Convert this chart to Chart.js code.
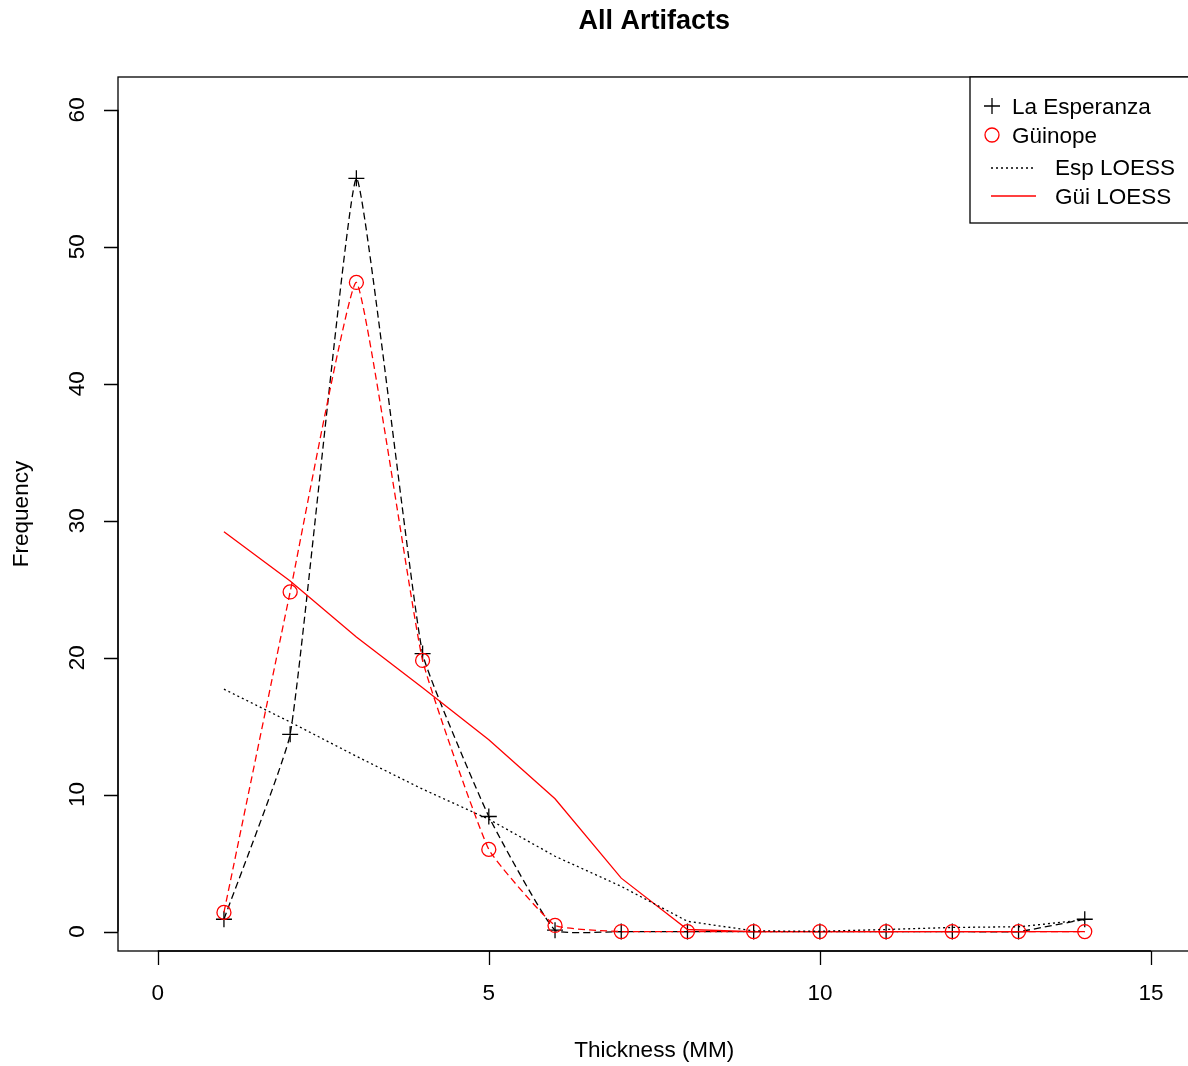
<!DOCTYPE html>
<html>
<head>
<meta charset="utf-8">
<script src="https://cdn.jsdelivr.net/npm/chart.js@4/dist/chart.umd.min.js"></script>
<style>
  html, body { margin: 0; padding: 0; background: #fff; overflow: hidden; }
  #wrap { position: absolute; left: 0; top: 0; width: 1200px; height: 1066px; }
</style>
</head>
<body>
<div id="wrap"><canvas id="c" width="1200" height="1066"></canvas></div>
<script>
// ---- data ----
const thickness   = [1, 2, 3, 4, 5, 6, 7, 8, 9, 10, 11, 12, 13, 14];
const esperanza   = [0.9, 14.4, 55.0, 20.3, 8.4, 0.1, 0, 0, 0, 0, 0, 0, 0, 0.9];
const guinope     = [1.4, 24.8, 47.4, 19.8, 6.0, 0.45, 0, 0, 0, 0, 0, 0, 0, 0];
const espLoess    = [17.7, 15.3, 12.8, 10.4, 8.2, 5.5, 3.3, 0.75, 0.05, 0.02, 0.15, 0.3, 0.35, 0.85];
const guiLoess    = [29.2, 25.6, 21.5, 17.8, 14.0, 9.7, 3.9, 0.15, 0, 0, 0, 0, 0, 0];
const xTicks      = [0, 5, 10, 15];
const yTicks      = [0, 10, 20, 30, 40, 50, 60];
const seriesNames = ['La Esperanza', 'Güinope', 'Esp LOESS', 'Güi LOESS'];
const chartTitle  = 'All Artifacts';
const xTitle      = 'Thickness (MM)';
const yTitle      = 'Frequency';

const pts = (ys) => thickness.map((x, i) => ({ x: x, y: ys[i] }));
const FONT = '"Liberation Sans", Arial, sans-serif';
const LW = 1.3;

const rPlot = {
  id: 'rPlot',
  afterDraw(chart) {
    const ctx = chart.ctx;
    const a = chart.chartArea;
    const xs = chart.scales.x, ys = chart.scales.y;
    ctx.save();
    ctx.strokeStyle = '#000';
    ctx.fillStyle = '#000';
    ctx.lineWidth = LW;
    ctx.setLineDash([]);
    // box
    ctx.strokeRect(a.left, a.top, a.right - a.left, a.bottom - a.top);
    // x axis
    ctx.beginPath();
    ctx.moveTo(xs.getPixelForValue(xTicks[0]), a.bottom);
    ctx.lineTo(xs.getPixelForValue(xTicks[xTicks.length - 1]), a.bottom);
    xTicks.forEach(t => {
      const px = Math.round(xs.getPixelForValue(t)) + 0.5;
      ctx.moveTo(px, a.bottom);
      ctx.lineTo(px, a.bottom + 14);
    });
    ctx.stroke();
    ctx.font = '22.5px ' + FONT;
    ctx.textAlign = 'center';
    ctx.textBaseline = 'middle';
    xTicks.forEach(t => ctx.fillText(String(t), xs.getPixelForValue(t), 994));
    // y axis
    ctx.beginPath();
    ctx.moveTo(a.left, ys.getPixelForValue(yTicks[0]));
    ctx.lineTo(a.left, ys.getPixelForValue(yTicks[yTicks.length - 1]));
    yTicks.forEach(t => {
      const py = Math.round(ys.getPixelForValue(t)) + 0.5;
      ctx.moveTo(a.left, py);
      ctx.lineTo(a.left - 14, py);
    });
    ctx.stroke();
    yTicks.forEach(t => {
      ctx.save();
      ctx.translate(78, ys.getPixelForValue(t));
      ctx.rotate(-Math.PI / 2);
      ctx.fillText(String(t), 0, 0);
      ctx.restore();
    });
    // axis titles
    const cx = (a.left + a.right) / 2;
    ctx.fillText(xTitle, cx, 1051);
    ctx.save();
    ctx.translate(22, (a.top + a.bottom) / 2);
    ctx.rotate(-Math.PI / 2);
    ctx.fillText(yTitle, 0, 0);
    ctx.restore();
    // main title
    ctx.font = 'bold 27px ' + FONT;
    ctx.fillText(chartTitle, cx, 22);

    // legend (top right, box partly beyond the page edge like the reference)
    const lx = 970, ly = a.top, lw = a.right - 970, lh = 146;
    ctx.fillStyle = '#fff';
    ctx.fillRect(lx, ly, lw, lh);
    ctx.strokeStyle = '#000';
    ctx.strokeRect(lx, ly, lw, lh);
    ctx.font = '22.5px ' + FONT;
    ctx.textAlign = 'left';
    ctx.fillStyle = '#000';
    // + symbol
    ctx.beginPath();
    ctx.moveTo(992 - 8, 106); ctx.lineTo(992 + 8, 106);
    ctx.moveTo(992, 106 - 8); ctx.lineTo(992, 106 + 8);
    ctx.stroke();
    ctx.fillText(seriesNames[0], 1012, 108);
    // circle symbol
    ctx.strokeStyle = '#ff0000';
    ctx.beginPath();
    ctx.arc(992, 135, 7, 0, Math.PI * 2);
    ctx.stroke();
    ctx.fillText(seriesNames[1], 1012, 137);
    // dotted line
    ctx.strokeStyle = '#000';
    ctx.setLineDash([2, 3]);
    ctx.beginPath();
    ctx.moveTo(991, 168); ctx.lineTo(1036, 168);
    ctx.stroke();
    ctx.fillText(seriesNames[2], 1055, 169);
    // red solid line
    ctx.setLineDash([]);
    ctx.strokeStyle = '#ff0000';
    ctx.beginPath();
    ctx.moveTo(991, 196); ctx.lineTo(1036, 196);
    ctx.stroke();
    ctx.fillText(seriesNames[3], 1055, 198);
    ctx.restore();
  }
};

new Chart(document.getElementById('c'), {
  type: 'line',
  data: {
    datasets: [
      {
        label: seriesNames[2], data: pts(espLoess),
        borderColor: '#000', borderWidth: LW, borderDash: [2, 3],
        pointRadius: 0, tension: 0, fill: false
      },
      {
        label: seriesNames[3], data: pts(guiLoess),
        borderColor: '#ff0000', borderWidth: LW,
        pointRadius: 0, tension: 0, fill: false
      },
      {
        label: seriesNames[1], data: pts(guinope),
        borderColor: '#ff0000', borderWidth: LW, borderDash: [7, 4],
        pointStyle: 'circle', pointRadius: 7, pointBorderWidth: LW,
        pointBorderColor: '#ff0000', pointBackgroundColor: 'rgba(0,0,0,0)',
        tension: 0.12, fill: false
      },
      {
        label: seriesNames[0], data: pts(esperanza),
        borderColor: '#000', borderWidth: LW, borderDash: [7, 4],
        pointStyle: 'cross', pointRadius: 8, pointBorderWidth: LW,
        pointBorderColor: '#000',
        tension: 0.12, fill: false
      }
    ]
  },
  options: {
    responsive: false,
    animation: false,
    events: [],
    layout: { padding: { left: 118, right: 7, top: 77, bottom: 115 } },
    scales: {
      x: { type: 'linear', min: -0.6, max: 15.6, display: false },
      y: { type: 'linear', min: -1.42, max: 62.4, display: false }
    },
    plugins: {
      legend: { display: false },
      title: { display: false },
      tooltip: { enabled: false }
    }
  },
  plugins: [rPlot]
});
</script>
</body>
</html>
